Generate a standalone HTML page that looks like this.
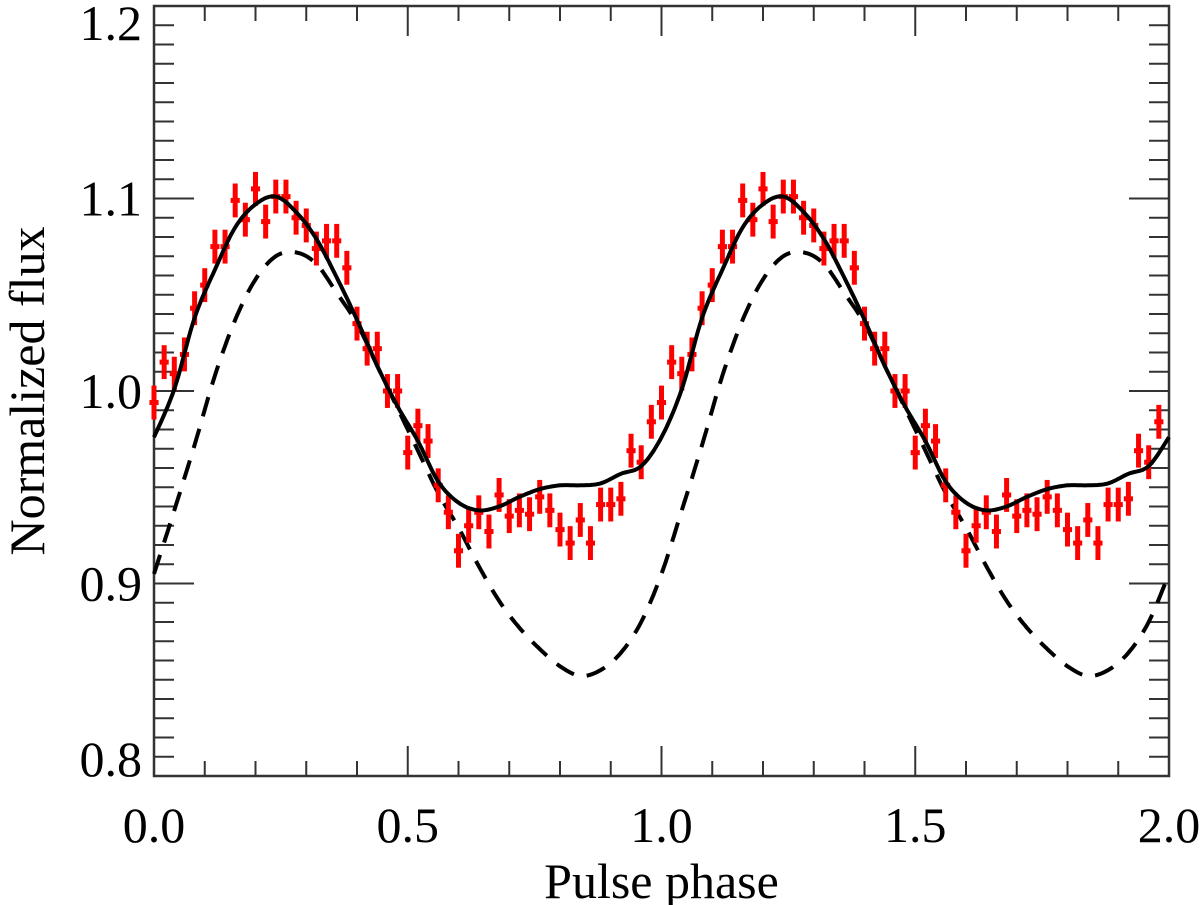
<!DOCTYPE html>
<html><head><meta charset="utf-8">
<style>
html,body{margin:0;padding:0;background:#fff;}
svg{display:block;font-family:"Liberation Serif",serif;}
</style></head>
<body>
<svg id="chart" width="1200" height="905" viewBox="0 0 1200 905" xmlns="http://www.w3.org/2000/svg">
</svg>
<script>
// ---- data ----
const dataFlux = [0.994,1.015,1.009,1.019,1.043,1.055,1.075,1.075,1.099,1.089,
1.105,1.088,1.101,1.101,1.090,1.086,1.074,1.078,1.078,1.064,
1.035,1.022,1.022,1.000,1.000,0.968,0.982,0.974,0.951,0.937,
0.917,0.930,0.937,0.927,0.946,0.935,0.938,0.936,0.945,0.938,
0.928,0.921,0.933,0.921,0.941,0.941,0.944,0.969,0.963,0.984];
const dataErr = 0.0088;
const modelPhase = [0,0.04,0.08,0.12,0.16,0.20,0.24,0.28,0.32,0.36,0.40,0.44,0.48,0.52,0.56,0.60,0.64,0.68,0.72,0.76,0.80,0.84,0.88,0.92,0.96,1.00];
const modelTotal = [0.976,1.001,1.038,1.063,1.085,1.097,1.101,1.093,1.079,1.059,1.037,1.013,0.992,0.974,0.953,0.942,0.938,0.940,0.945,0.949,0.951,0.951,0.952,0.957,0.961,0.976];
const modelPulse = [0.905,0.938,0.972,1.008,1.037,1.058,1.070,1.072,1.066,1.051,1.035,1.013,0.991,0.969,0.947,0.929,0.909,0.891,0.877,0.866,0.857,0.852,0.855,0.864,0.880,0.905];
const xTicks = ["0.0","0.5","1.0","1.5","2.0"];
const yTicks = ["0.8","0.9","1.0","1.1","1.2"];

const NS="http://www.w3.org/2000/svg";
const svg=document.getElementById('chart');
const L=154,R=1169,T=6,B=776;
const X0=0,X1=2,Y0=0.8,Y1=1.2;
function xs(v){return L+(v-X0)/(X1-X0)*(R-L);}
function ys(v){return B-(v-Y0)/(Y1-Y0)*(B-T);}
function el(tag,attrs,parent){const e=document.createElementNS(NS,tag);for(const k in attrs)e.setAttribute(k,attrs[k]);(parent||svg).appendChild(e);return e;}

// ticks
const axG=el('g',{});


for(let i=0;i<=40;i++){
  const v=0.8+i*0.01, y=ys(v), major=(i%10===0), len=major?40:20;
  const t1=el('line',{x1:L,x2:L+len,y1:y,y2:y,stroke:'#333','stroke-width':2},axG);
  
  
  const t2=el('line',{x1:R,x2:R-len,y1:y,y2:y,stroke:'#333','stroke-width':2},axG);
  
  
}
for(let i=0;i<=20;i++){
  const x=xs(i*0.1), major=(i%5===0), len=major?30:15;
  const t1=el('line',{x1:x,x2:x,y1:B,y2:B-len,stroke:'#333','stroke-width':2},axG);
  
  
  const t2=el('line',{x1:x,x2:x,y1:T,y2:T+len,stroke:'#333','stroke-width':2},axG);
  
  
}
const frame=el('rect',{x:L,y:T,width:R-L,height:B-T,fill:'none',stroke:'#333','stroke-width':2.5},axG);



// tick labels
xTicks.forEach((s,i)=>{
  const t=el('text',{x:xs(parseFloat(s)),y:842,'font-size':50,'text-anchor':'middle',fill:'#000'});
  t.textContent=s;
  
  
});
yTicks.forEach((s,i)=>{
  let y=ys(parseFloat(s))+17;
  if(i===0) y=B;
  if(i===yTicks.length-1) y=T+34;
  const t=el('text',{x:142,y:y,'font-size':50,'text-anchor':'end',fill:'#000'});
  t.textContent=s;
  
  
});
const xt=el('text',{x:(L+R)/2,y:898,'font-size':50,'text-anchor':'middle',fill:'#000'});
xt.textContent='Pulse phase';


const yt=el('text',{x:0,y:0,'font-size':50,'text-anchor':'middle',fill:'#000',transform:'translate(44,391) rotate(-90)'});
yt.textContent='Normalized flux';



// smooth curve through model points over two cycles
function curvePath(vals){
  const P=[];
  for(let c=0;c<2;c++){for(let i=0;i<modelPhase.length;i++){if(c===1&&i===0)continue;P.push([modelPhase[i]+c,vals[i]]);}}
  let d='';
  for(let i=0;i<P.length-1;i++){
    const p0=P[Math.max(0,i-1)],p1=P[i],p2=P[i+1],p3=P[Math.min(P.length-1,i+2)];
    for(let s=0;s<=10;s++){
      if(i>0&&s===0)continue;
      const t=s/10,t2=t*t,t3=t2*t;
      const f=(a,b,c,e)=>0.5*((2*b)+(-a+c)*t+(2*a-5*b+4*c-e)*t2+(-a+3*b-3*c+e)*t3);
      const px=f(p0[0],p1[0],p2[0],p3[0]),py=f(p0[1],p1[1],p2[1],p3[1]);
      d+=(d?'L':'M')+xs(px).toFixed(1)+','+ys(py).toFixed(1);
    }
  }
  return d;
}
const dash=el('path',{d:curvePath(modelPulse),fill:'none',stroke:'#000','stroke-width':4,'stroke-dasharray':'20 13'});



// data points
const ptsG=el('g',{stroke:'#f00','stroke-width':5});


for(let c=0;c<2;c++){
  dataFlux.forEach((v,i)=>{
    const ph=c+i*0.02, x=xs(ph);
    const g=el('g',{},ptsG);
    
    
    el('line',{x1:x,x2:x,y1:ys(v-dataErr),y2:ys(v+dataErr)},g);
    el('line',{x1:xs(ph-0.009),x2:xs(ph+0.009),y1:ys(v),y2:ys(v)},g);
  });
}

const solid=el('path',{d:curvePath(modelTotal),fill:'none',stroke:'#000','stroke-width':4});


</script>
</body></html>
